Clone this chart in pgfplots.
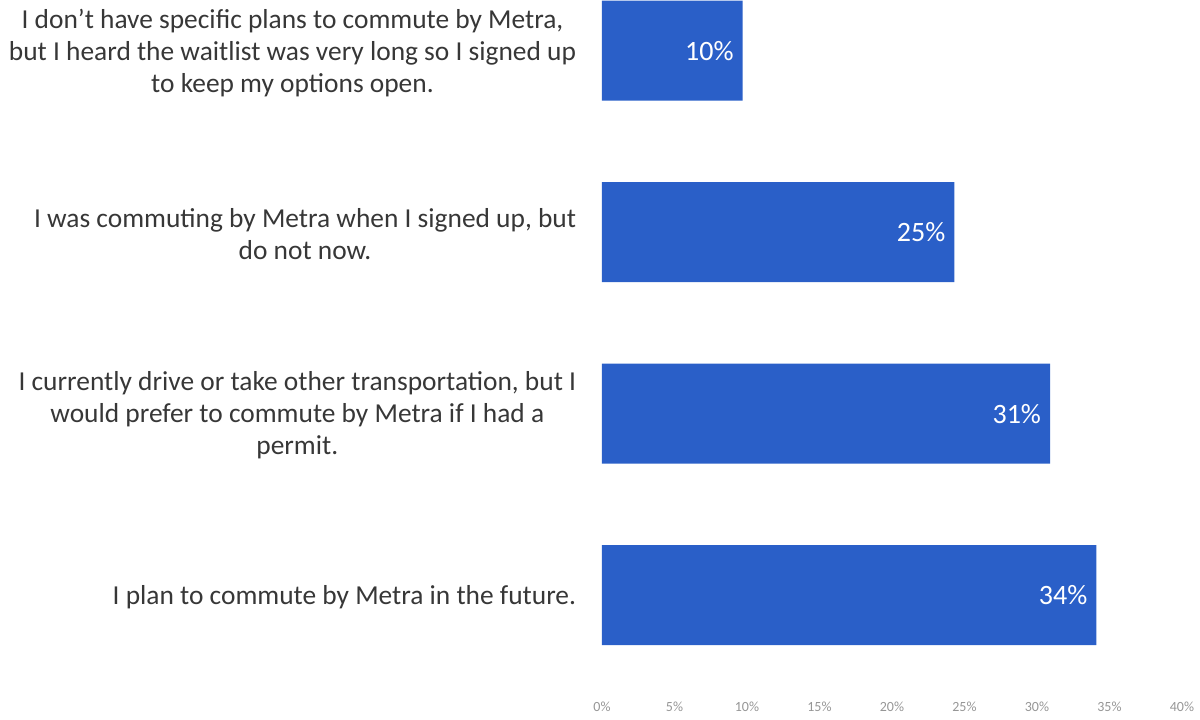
\documentclass[border=0pt]{standalone}
\usepackage{pgfplots}
\pgfplotsset{compat=1.18}
\usepackage{fontspec}
\setmainfont{Carlito}
\definecolor{barblue}{RGB}{42,95,200}
\definecolor{labgray}{RGB}{55,55,55}
\definecolor{tickgray}{RGB}{150,150,150}
\begin{document}
\begin{tikzpicture}
\path[use as bounding box] (0pt,0pt) rectangle (600pt,359.5pt);
\begin{axis}[
  at={(301pt,12pt)}, anchor=south west,
  scale only axis, width=290pt, height=347.6pt,
  xbar, bar width=50pt,
  xmin=0, xmax=40, ymin=-0.28, ymax=3.55,
  y dir=reverse,
  xtick={0,5,...,40},
  /pgf/number format/assume math mode=true,
  xticklabel={\pgfmathprintnumber{\tick}\%},
  xticklabel style={font=\fontsize{7}{8}\selectfont, text=tickgray},
  ytick={0,1,2,3},
  yticklabels={{I don’t have specific plans to commute by Metra,\\but I heard the waitlist was very long so I signed up\\to keep my options open.},
    {I was commuting by Metra when I signed up, but\\do not now.},
    {I currently drive or take other transportation, but I\\would prefer to commute by Metra if I had a\\permit.},
    {I plan to commute by Metra in the future.}},
  yticklabel style={align=center, font=\fontsize{13.7}{16}\selectfont, text=labgray, inner sep=0pt, xshift=-8.5pt, yshift=-1pt},
  axis line style={draw=none},
  major tick style={draw=none},
  point meta=explicit symbolic,
  nodes near coords,
  every node near coord/.append style={anchor=east, xshift=-1pt, text=white, font=\fontsize{14}{16}\selectfont},
]
\addplot[fill=barblue, draw=none] coordinates {
  (9.7,0) [10\%]
  (24.3,1) [25\%]
  (30.9,2) [31\%]
  (34.1,3) [34\%]
};
\end{axis}
\end{tikzpicture}
\end{document}
